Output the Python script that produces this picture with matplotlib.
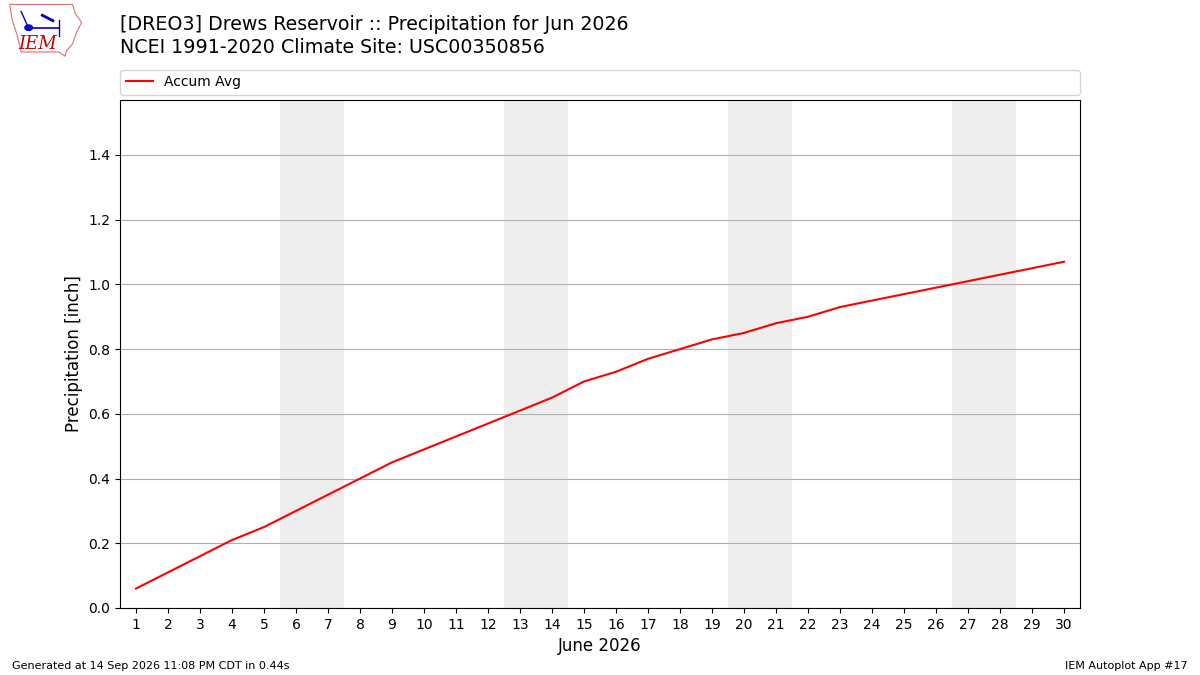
import matplotlib
matplotlib.use("Agg")
import matplotlib.pyplot as plt
from matplotlib.patches import Polygon, Circle

days = list(range(1, 31))
accum_avg = [0.06, 0.11, 0.16, 0.21, 0.25, 0.30, 0.35, 0.40, 0.45, 0.49,
             0.53, 0.57, 0.61, 0.65, 0.70, 0.73, 0.77, 0.80, 0.83, 0.85,
             0.88, 0.90, 0.93, 0.95, 0.97, 0.99, 1.01, 1.03, 1.05, 1.07]
weekends = [(6, 7), (13, 14), (20, 21), (27, 28)]
title_lines = ["[DREO3] Drews Reservoir :: Precipitation for Jun 2026",
               "NCEI 1991-2020 Climate Site: USC00350856"]

fig = plt.figure(figsize=(12, 6.75), dpi=100)
ax = fig.add_axes([0.1, 0.0993, 0.8, 0.7526])

for a, b in weekends:
    ax.axvspan(a - 0.5, b + 0.5, color="#eeeeee", zorder=0, lw=0)

ax.plot(days, accum_avg, color="red", lw=1.5, label="Accum Avg", zorder=3)
ax.set_xlim(0.5, 30.5)
ax.set_ylim(0, 1.57)
ax.set_xticks(days)
ax.set_xticklabels([str(d) for d in days], fontsize=10)
ax.set_yticks([0.0, 0.2, 0.4, 0.6, 0.8, 1.0, 1.2, 1.4])
ax.tick_params(axis="y", labelsize=10)
ax.grid(axis="y", color="#b0b0b0", lw=0.8, zorder=1)
ax.set_axisbelow(True)
ax.set_xlabel("June 2026", fontsize=12)
ax.set_ylabel("Precipitation [inch]", fontsize=12)
ax.legend(loc="lower left", bbox_to_anchor=(0, 1.01, 1, 0.05), mode="expand",
          ncol=1, fontsize=10, borderaxespad=0, frameon=True)

fig.text(0.1, 0.9644, title_lines[0], fontsize=13.7, ha="left", va="center")
fig.text(0.1, 0.930, title_lines[1], fontsize=13.7, ha="left", va="center")
fig.text(0.01, 0.009, "Generated at 14 Sep 2026 11:08 PM CDT in 0.44s", fontsize=8, ha="left")
fig.text(0.99, 0.009, "IEM Autoplot App #17", fontsize=8, ha="right")

# logo
lax = fig.add_axes([0.005, 0.915, 0.063, 0.08])
lax.set_xlim(0, 1)
lax.set_ylim(0, 1)
lax.axis("off")
outline = [(0.05, 0.98), (0.88, 0.98), (0.92, 0.8), (1.0, 0.65), (0.93, 0.45),
           (0.88, 0.25), (0.8, 0.12), (0.78, 0.02), (0.7, 0.1), (0.2, 0.1),
           (0.15, 0.4), (0.08, 0.7)]
lax.add_patch(Polygon(outline, closed=True, fill=False, ec="#e07070", lw=0.8))
lax.plot([0.28, 0.7], [0.55, 0.55], color="#0000cc", lw=1.2)
lax.add_patch(Circle((0.3, 0.55), 0.05, color="#0000cc"))
lax.plot([0.7, 0.7], [0.4, 0.7], color="#0000cc", lw=1)
lax.plot([0.48, 0.62], [0.78, 0.68], color="#0000cc", lw=2)
lax.plot([0.2, 0.28], [0.85, 0.6], color="#0000cc", lw=1)
lax.text(0.42, 0.25, "IEM", color="#cc0000", fontsize=13, family="DejaVu Serif",
         style="italic", ha="center", va="center")

fig.savefig("out.png", dpi=100)
